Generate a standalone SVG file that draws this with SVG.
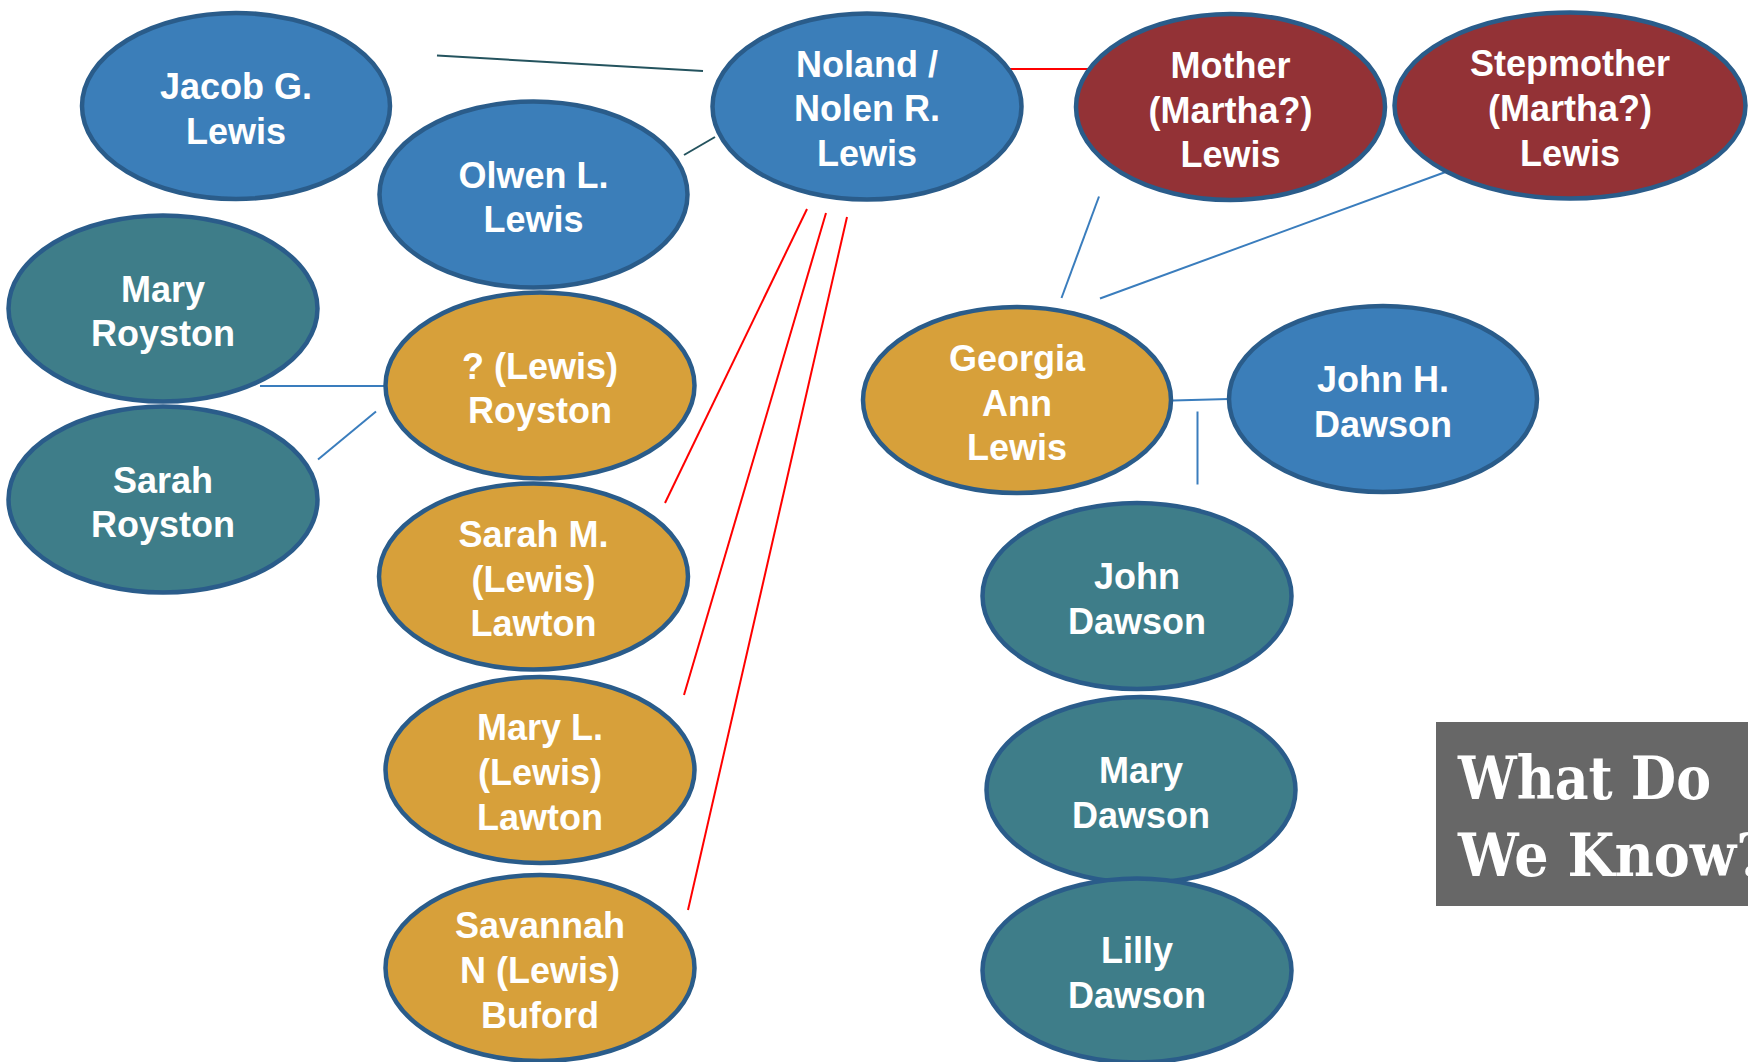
<svg xmlns="http://www.w3.org/2000/svg" width="1748" height="1062" viewBox="0 0 1748 1062">
<style>
.n{stroke:#2A5C8A;stroke-width:4.5}
.blue{fill:#3B7EB9}
.teal{fill:#3E7D89}
.gold{fill:#D7A03A}
.red{fill:#933236}
.t{font-family:"Liberation Sans",Arial,sans-serif;font-weight:bold;font-size:36px;fill:#FFFFFF;text-anchor:middle}
.cb{stroke:#3A7DBD;stroke-width:2;fill:none}
.cd{stroke:#24535E;stroke-width:2;fill:none}
.cr{stroke:#FF0000;stroke-width:2;fill:none}
.h{font-family:"DejaVu Serif","Liberation Serif",serif;font-weight:bold;font-size:60px;fill:#FFFFFF}
</style>
<rect width="1748" height="1062" fill="#FFFFFF"/>
<g id="connectors">
<line class="cd" x1="437" y1="55.5" x2="703" y2="71"/>
<line class="cd" x1="684" y1="155" x2="715" y2="137"/>
<line class="cb" x1="260" y1="386" x2="386" y2="386" stroke-width="2.5"/>
<line class="cb" x1="318" y1="459.5" x2="376" y2="411.5"/>
<line class="cr" x1="807" y1="209" x2="665" y2="503"/>
<line class="cr" x1="826" y1="213" x2="684" y2="695"/>
<line class="cr" x1="847" y1="217" x2="688" y2="910"/>
<line class="cr" x1="1008" y1="69" x2="1091" y2="69"/>
<line class="cb" x1="1099" y1="196.5" x2="1061.5" y2="298"/>
<line class="cb" x1="1445.5" y1="172" x2="1100" y2="298.5"/>
<line class="cb" x1="1173" y1="400.5" x2="1229" y2="399"/>
<line class="cb" x1="1197.5" y1="411.5" x2="1197.5" y2="484.5"/>
</g>
<g id="jacob">
<ellipse class="n blue" cx="236" cy="106" rx="154" ry="93"/>
<text class="t" x="236" y="99">Jacob G.</text>
<text class="t" x="236" y="144">Lewis</text>
</g>
<g id="olwen">
<ellipse class="n blue" cx="533.5" cy="194.5" rx="154" ry="93"/>
<text class="t" x="533.5" y="188">Olwen L.</text>
<text class="t" x="533.5" y="232">Lewis</text>
</g>
<g id="noland">
<ellipse class="n blue" cx="867" cy="106.5" rx="154.5" ry="93"/>
<text class="t" x="867" y="76.5">Noland /</text>
<text class="t" x="867" y="121">Nolen R.</text>
<text class="t" x="867" y="166">Lewis</text>
</g>
<g id="mother">
<ellipse class="n red" cx="1230.5" cy="107" rx="154.5" ry="93"/>
<text class="t" x="1230.5" y="77.5">Mother</text>
<text class="t" x="1230.5" y="123">(Martha?)</text>
<text class="t" x="1230.5" y="167">Lewis</text>
</g>
<g id="stepmother">
<ellipse class="n red" cx="1570" cy="105.5" rx="175.5" ry="93"/>
<text class="t" x="1570" y="76">Stepmother</text>
<text class="t" x="1570" y="121">(Martha?)</text>
<text class="t" x="1570" y="166">Lewis</text>
</g>
<g id="mary-royston">
<ellipse class="n teal" cx="163" cy="308.5" rx="154.5" ry="93"/>
<text class="t" x="163" y="301.5">Mary</text>
<text class="t" x="163" y="346">Royston</text>
</g>
<g id="lewis-royston">
<ellipse class="n gold" cx="540" cy="385.5" rx="154.5" ry="93"/>
<text class="t" x="540" y="378.5">? (Lewis)</text>
<text class="t" x="540" y="423">Royston</text>
</g>
<g id="sarah-royston">
<ellipse class="n teal" cx="163" cy="499.5" rx="154.5" ry="93"/>
<text class="t" x="163" y="492.5">Sarah</text>
<text class="t" x="163" y="537">Royston</text>
</g>
<g id="sarah-lawton">
<ellipse class="n gold" cx="533.5" cy="576.5" rx="154.5" ry="93"/>
<text class="t" x="533.5" y="546.5">Sarah M.</text>
<text class="t" x="533.5" y="591.5">(Lewis)</text>
<text class="t" x="533.5" y="636">Lawton</text>
</g>
<g id="mary-lawton">
<ellipse class="n gold" cx="540" cy="770" rx="154.5" ry="93"/>
<text class="t" x="540" y="740">Mary L.</text>
<text class="t" x="540" y="785">(Lewis)</text>
<text class="t" x="540" y="830">Lawton</text>
</g>
<g id="savannah">
<ellipse class="n gold" cx="540" cy="968" rx="154.5" ry="93"/>
<text class="t" x="540" y="938">Savannah</text>
<text class="t" x="540" y="983">N (Lewis)</text>
<text class="t" x="540" y="1028">Buford</text>
</g>
<g id="georgia">
<ellipse class="n gold" cx="1017" cy="400" rx="154" ry="93"/>
<text class="t" x="1017" y="371">Georgia</text>
<text class="t" x="1017" y="415.5">Ann</text>
<text class="t" x="1017" y="460">Lewis</text>
</g>
<g id="john-h-dawson">
<ellipse class="n blue" cx="1383" cy="399" rx="154" ry="93"/>
<text class="t" x="1383" y="392">John H.</text>
<text class="t" x="1383" y="437">Dawson</text>
</g>
<g id="john-dawson">
<ellipse class="n teal" cx="1137" cy="596" rx="154.5" ry="93"/>
<text class="t" x="1137" y="589">John</text>
<text class="t" x="1137" y="633.5">Dawson</text>
</g>
<g id="mary-dawson">
<ellipse class="n teal" cx="1141" cy="790" rx="154.5" ry="93"/>
<text class="t" x="1141" y="783">Mary</text>
<text class="t" x="1141" y="827.5">Dawson</text>
</g>
<g id="lilly-dawson">
<ellipse class="n teal" cx="1137" cy="970.5" rx="154.5" ry="92"/>
<text class="t" x="1137" y="963">Lilly</text>
<text class="t" x="1137" y="1008">Dawson</text>
</g>
<g id="title">
<rect x="1436" y="722" width="312" height="184" fill="#676767"/>
<text class="h" x="1458" y="799" textLength="253" lengthAdjust="spacingAndGlyphs">What Do</text>
<text class="h" x="1458" y="876" textLength="310" lengthAdjust="spacingAndGlyphs">We Know?</text>
</g>
</svg>
